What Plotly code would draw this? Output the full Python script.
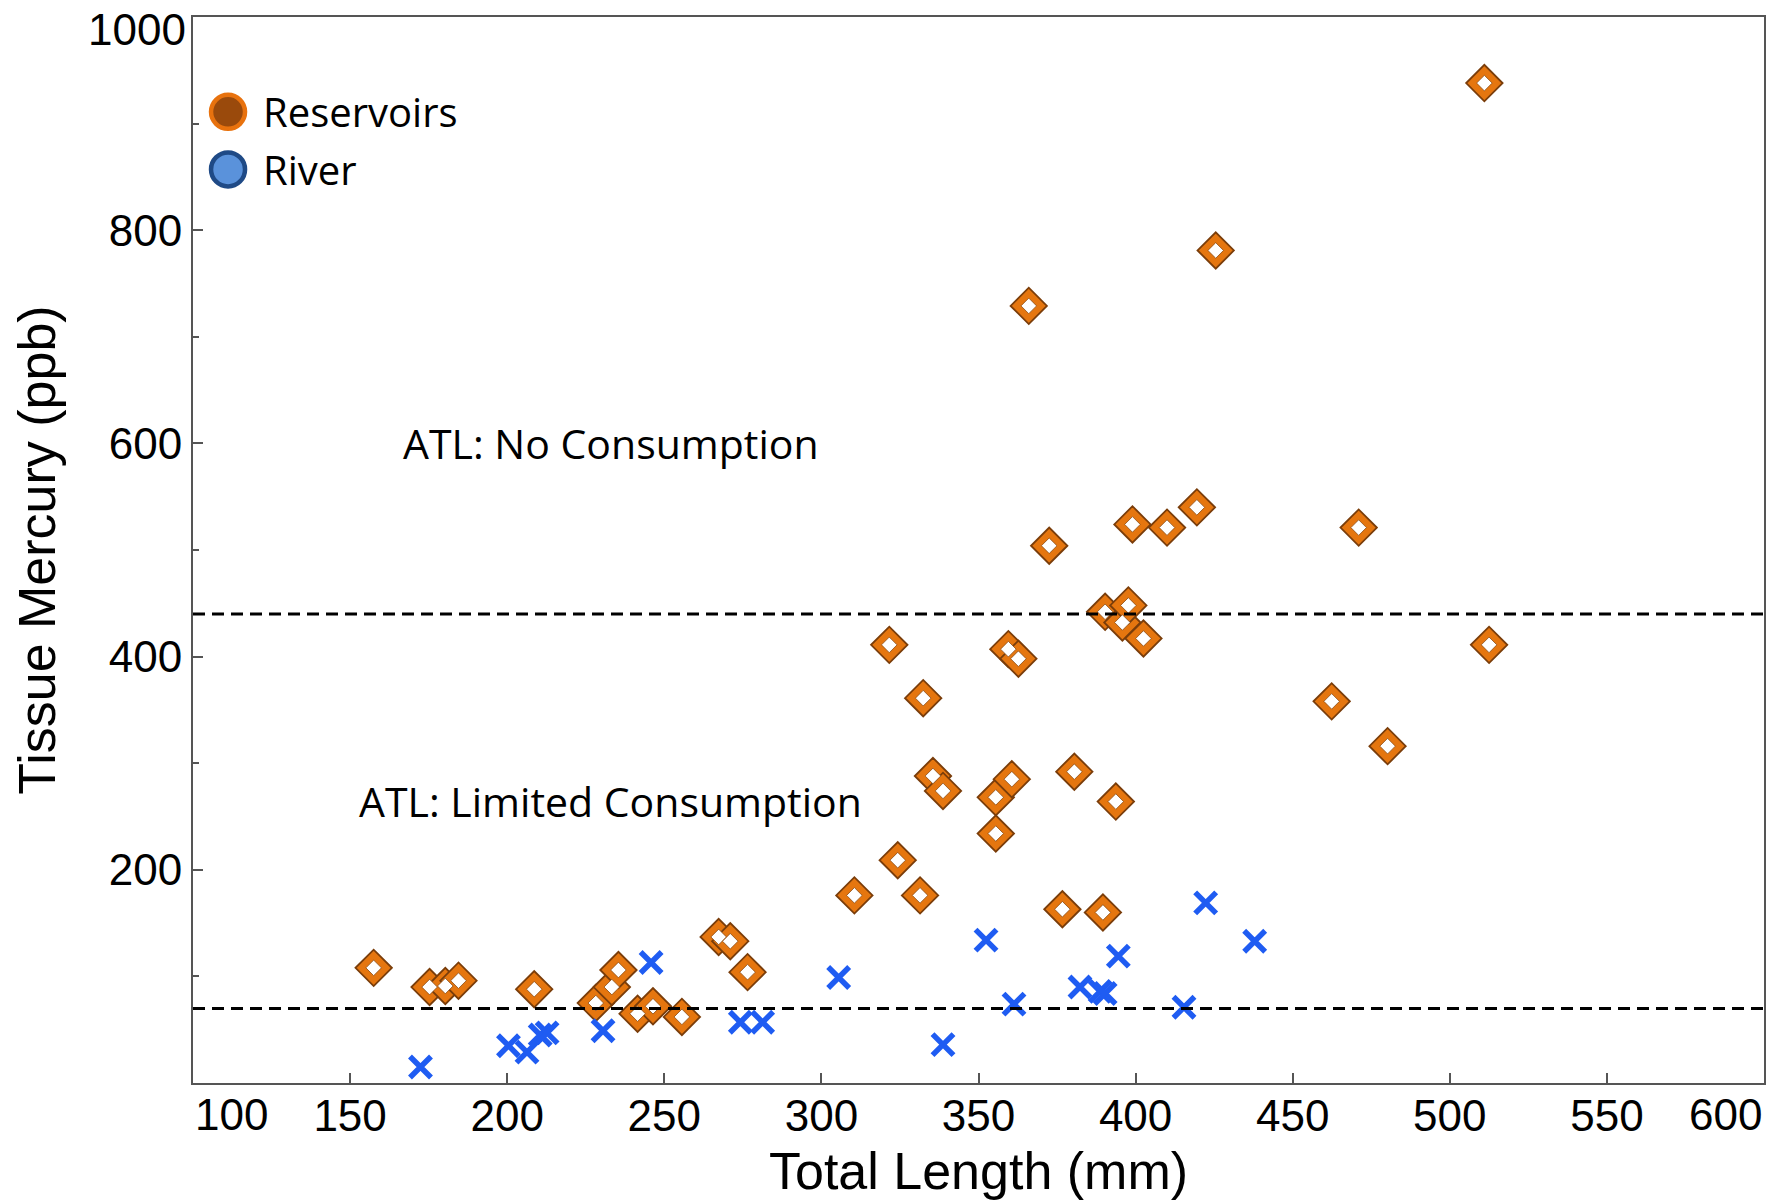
import plotly.graph_objects as go

# ---------------- data ----------------
res_length = [157.5, 175.3, 180.3, 184.5, 208.6, 228.2, 233.3, 235.4, 241.5, 246.4,
              255.6, 267.3, 271.0, 276.5, 310.5, 321.6, 324.3, 331.4, 332.4, 335.5,
              338.7, 355.5, 355.5, 359.5, 360.6, 362.7, 366.0, 372.5, 376.7, 380.5,
              389.6, 390.3, 393.7, 395.8, 397.7, 399.0, 402.5, 410.0, 419.5, 425.5,
              462.4, 471.0, 480.2, 511.0, 512.5]
res_hg = [108, 90, 91, 96, 88, 75, 90, 106, 65, 72,
          62, 137, 133, 104, 176, 411, 209, 176, 361, 288,
          274, 268, 234, 407, 285, 398, 729, 504, 163, 292,
          160, 442, 264, 432, 448, 524, 417, 521, 540, 781,
          358, 521, 316, 938, 411]

riv_length = [172.4, 200.4, 206.3, 210.5, 212.7, 230.5, 245.8, 274.2, 281.3, 305.5,
              338.7, 352.4, 361.3, 382.3, 388.7, 390.3, 394.5, 415.4, 422.3, 437.9]
riv_hg = [15, 35, 29, 45, 47, 49, 113, 57, 57, 99,
          36, 134, 74, 90, 86, 84, 119, 71, 169, 133]

x_ticks = [100, 150, 200, 250, 300, 350, 400, 450, 500, 550, 600]
y_ticks = [200, 400, 600, 800, 1000]
y_minor_ticks = [100, 300, 500, 700, 900]

atl_thresholds = [440, 70]
atl_labels = ["ATL: No Consumption", "ATL: Limited Consumption"]
atl_label_y = [600, 265]
atl_label_x = 233

legend_labels = ["Reservoirs", "River"]
legend_fill = ["#9A4A0C", "#5A92DB"]
legend_edge = ["#E8720E", "#1F4A86"]

# ---------------- figure ----------------
fig = go.Figure()

# Reservoirs: orange diamond with white core
fig.add_trace(go.Scatter(
    x=res_length, y=res_hg, mode="markers", name=legend_labels[0], showlegend=False,
    marker=dict(symbol="diamond", size=28, color="#E5760F",
                line=dict(color="#7A3D0A", width=1.8)),
    hoverinfo="x+y"))
fig.add_trace(go.Scatter(
    x=res_length, y=res_hg, mode="markers", showlegend=False, hoverinfo="skip",
    marker=dict(symbol="diamond", size=12, color="white",
                line=dict(color="#8A4A12", width=0.8))))

# River: blue crosses
fig.add_trace(go.Scatter(
    x=riv_length, y=riv_hg, mode="markers", name=legend_labels[1], showlegend=False,
    marker=dict(symbol="x-thin", size=21, color="#1F5CF2",
                line=dict(color="#1F5CF2", width=5.5))))

# threshold lines
for t in atl_thresholds:
    fig.add_shape(type="line", xref="paper", x0=0, x1=1, yref="y", y0=t, y1=t,
                  line=dict(color="black", width=3, dash="12px,7px"), layer="above")

# threshold labels
for txt, yy in zip(atl_labels, atl_label_y):
    fig.add_annotation(x=atl_label_x, y=yy, xref="x", yref="y", text=txt,
                       showarrow=False, font=dict(family="Open Sans", size=41, color="black"))

# manual legend (large circles)
leg_x = 0.0223
leg_y = [0.911, 0.857]
for lab, fc, ec, yy in zip(legend_labels, legend_fill, legend_edge, leg_y):
    fig.add_shape(type="circle", xref="paper", yref="paper",
                  xsizemode="pixel", ysizemode="pixel",
                  xanchor=leg_x, yanchor=yy, x0=-17, x1=17, y0=-17, y1=17,
                  fillcolor=fc, line=dict(color=ec, width=4.5), layer="above")
    fig.add_annotation(x=leg_x, y=yy, xref="paper", yref="paper", text=lab,
                       xanchor="left", yanchor="middle", xshift=33, showarrow=False,
                       font=dict(family="Open Sans", size=40, color="black"))

# end tick labels placed inside the frame (as in the original)
tick_font = dict(family="Liberation Sans, Arial", size=44, color="black")
fig.add_annotation(x=x_ticks[0], y=0, xref="x", yref="paper", text=str(x_ticks[0]),
                   xanchor="left", yanchor="top", yshift=-5, showarrow=False, font=tick_font)
fig.add_annotation(x=x_ticks[-1], y=0, xref="x", yref="paper", text=str(x_ticks[-1]),
                   xanchor="right", yanchor="top", yshift=-5, showarrow=False, font=tick_font)
fig.add_annotation(x=0, y=y_ticks[-1], xref="paper", yref="y", text=str(y_ticks[-1]),
                   xanchor="right", yanchor="top", xshift=-5, yshift=14, showarrow=False,
                   font=tick_font)

axis_common = dict(showline=True, linecolor="#555555", linewidth=2, mirror=True,
                   ticks="inside", ticklen=10, tickwidth=1.5, tickcolor="#555555",
                   showgrid=False, zeroline=False, tickfont=tick_font)

fig.update_xaxes(range=[100, 600], tickvals=x_ticks, ticklabelstandoff=-7,
                 ticktext=[""] + [str(v) for v in x_ticks[1:-1]] + [""],
                 title=dict(text="Total Length (mm)", standoff=14,
                            font=dict(family="Liberation Sans, Arial", size=52, color="black")),
                 **axis_common)
fig.update_yaxes(range=[0, 1000], tickvals=y_ticks,
                 ticktext=[str(v) for v in y_ticks[:-1]] + [""],
                 minor=dict(tickvals=y_minor_ticks, ticks="inside", ticklen=6,
                            tickcolor="#555555", showgrid=False),
                 title=dict(text="Tissue Mercury (ppb)", standoff=37,
                            font=dict(family="Liberation Sans, Arial", size=52, color="black")),
                 **axis_common)

fig.update_layout(width=1787, height=1203,
                  margin=dict(l=193, r=23, t=17, b=120, autoexpand=False),
                  paper_bgcolor="white", plot_bgcolor="white", showlegend=False)

fig.write_html("out.html")
